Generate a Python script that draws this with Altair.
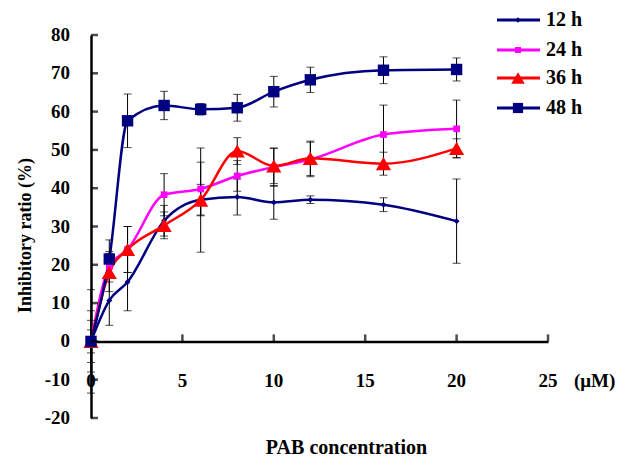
import altair as alt
import pandas as pd

conc = [0, 1, 2, 4, 6, 8, 10, 12, 16, 20]
series = ["12 h", "24 h", "36 h", "48 h"]
v12 = [0, 10.7, 15.5, 31.5, 37.0, 37.7, 36.3, 37.0, 35.7, 31.4]
e12 = [13.5, 6.5, 7.5, 4.0, 4.0, 4.7, 4.4, 1.0, 1.8, 11.0]
v24 = [0, 19.5, 24.0, 38.3, 39.8, 43.2, 45.5, 47.5, 54.0, 55.5]
e24 = [8.0, 4.0, 6.0, 5.5, 7.0, 4.0, 5.0, 4.5, 7.7, 7.5]
v36 = [0, 18.0, 24.0, 30.3, 36.9, 49.7, 45.8, 47.8, 46.4, 50.4]
e36 = [5.5, 5.0, 6.0, 3.5, 13.6, 3.5, 4.6, 4.5, 3.0, 2.5]
v48 = [0, 21.5, 57.6, 61.6, 60.6, 61.0, 65.2, 68.3, 70.8, 71.0]
e48 = [3.0, 5.0, 7.0, 3.7, 1.5, 3.5, 4.0, 3.3, 3.5, 3.0]
colors = ["#000080", "#FF00FF", "#FF0000", "#000080"]
shapes = ["diamond", "square", "triangle-up", "square"]
sizes = [35, 45, 230, 130]
x_ticks = [0, 5, 10, 15, 20, 25]
y_ticks = [-20, -10, 0, 10, 20, 30, 40, 50, 60, 70, 80]

rows = []
for s, vals, errs in zip(series, [v12, v24, v36, v48], [e12, e24, e36, e48]):
    for c, v, e in zip(conc, vals, errs):
        rows.append({"conc": c, "series": s, "value": v, "lo": v - e, "hi": v + e})
df = pd.DataFrame(rows)

W, H = 457, 383
FONT = "Liberation Serif"
xs = alt.Scale(domain=[0, 25], nice=False)
ys = alt.Scale(domain=[-20, 80], nice=False)
cscale = alt.Scale(domain=series, range=colors)

X_AX = alt.Axis(
    labels=False, ticks=False, grid=False, offset=-H * 20 / 100,
    domainColor="black", domainWidth=2.5,
    title="PAB concentration", titleX=255, titleY=106, titleBaseline="middle",
    titleAlign="center", titleAnchor="start", titleFontSize=20)
Y_AX = alt.Axis(
    labels=False, ticks=False, grid=False,
    domainColor="black", domainWidth=2.5,
    title="Inhibitory ratio (%)", titleX=-66, titleY=200, titleAngle=-90,
    titleAlign="center", titleBaseline="middle", titleAnchor="start", titleFontSize=18)


def X(f):
    return alt.X(f, scale=xs, axis=X_AX)


def Y(f):
    return alt.Y(f, scale=ys, axis=Y_AX)


base = alt.Chart(df)

lines = base.mark_line(interpolate="monotone", strokeWidth=2.5).encode(
    x=X("conc:Q"), y=Y("value:Q"),
    color=alt.Color("series:N", scale=cscale, legend=None),
    detail="series:N",
)

err = base.mark_rule(color="black", strokeWidth=1).encode(
    x=X("conc:Q"), y=Y("lo:Q"), y2="hi:Q")
cap_lo = base.mark_tick(color="black", orient="horizontal", size=8, thickness=1).encode(
    x=X("conc:Q"), y=Y("lo:Q"))
cap_hi = base.mark_tick(color="black", orient="horizontal", size=8, thickness=1).encode(
    x=X("conc:Q"), y=Y("hi:Q"))

pt_layers = []
for s, c, sh, sz in zip(series, colors, shapes, sizes):
    pt_layers.append(base.transform_filter(alt.datum.series == s).mark_point(
        filled=True, opacity=1, color=c, shape=sh, size=sz).encode(
        x=X("conc:Q"), y=Y("value:Q")))

xdf = pd.DataFrame({"t": x_ticks, "lab": [str(v) for v in x_ticks], "zero": 0})
ydf = pd.DataFrame({"t": y_ticks, "lab": [str(v) for v in y_ticks], "zero": 0})

xt = alt.Chart(xdf[xdf.t > 0]).mark_tick(
    color="black", orient="vertical", size=7, thickness=2.5, yOffset=-3.5).encode(
    x=X("t:Q"), y=Y("zero:Q"))
yt = alt.Chart(ydf).mark_tick(
    color="black", orient="horizontal", size=7, thickness=2.5, xOffset=3.5).encode(
    y=Y("t:Q"), x=X("zero:Q"))

xl = alt.Chart(xdf).mark_text(
    font=FONT, fontWeight="bold", fontSize=19, align="center", baseline="middle",
    dy=40, color="black").encode(x=X("t:Q"), y=Y("zero:Q"), text="lab:N")
yl = alt.Chart(ydf).mark_text(
    font=FONT, fontWeight="bold", fontSize=19, align="right", baseline="middle",
    dx=-21, color="black").encode(y=Y("t:Q"), x=X("zero:Q"), text="lab:N")

unit = alt.Chart(pd.DataFrame({"u": ["(μM)"], "x": [25], "zero": [0]})).mark_text(
    font=FONT, fontWeight="bold", fontSize=19, align="left", baseline="middle",
    dx=26, dy=40, color="black").encode(x=X("x:Q"), y=Y("zero:Q"), text="u:N")

legend_layers = []
leg_y = [-15, 15, 43, 73]
for s, c, sh, sz, ly in zip(series, colors, shapes, sizes, leg_y):
    one = alt.Chart(pd.DataFrame({"s": [s]}))
    legend_layers.append(one.mark_rule(color=c, strokeWidth=3).encode(
        x=alt.value(406), x2=alt.value(449), y=alt.value(ly)))
    legend_layers.append(one.mark_point(shape=sh, filled=True, opacity=1, color=c,
                                        size=sz * 0.8).encode(
        x=alt.value(427), y=alt.value(ly)))
    legend_layers.append(one.mark_text(font=FONT, fontWeight="bold", fontSize=20,
                                       align="left", baseline="middle", color="black").encode(
        x=alt.value(455), y=alt.value(ly), text="s:N"))

chart = alt.layer(lines, err, cap_lo, cap_hi, *pt_layers, xt, yt, xl, yl, unit,
                  *legend_layers).properties(
    width=W, height=H,
    autosize=alt.AutoSizeParams(type="none"),
    padding={"left": 83, "top": 27, "right": 70, "bottom": 40},
).configure_axis(
    titleFont=FONT, titleFontWeight="bold", titleColor="black",
).configure_view(stroke=None)

chart.save("out.html", embed_options={"renderer": "svg", "actions": False})
